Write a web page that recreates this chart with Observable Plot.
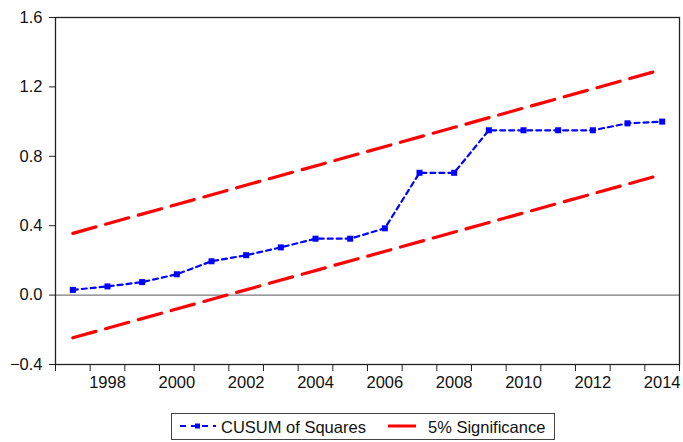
<!DOCTYPE html>
<html>
<head>
<meta charset="utf-8">
<script src="https://cdn.jsdelivr.net/npm/d3@7"></script>
<script src="https://cdn.jsdelivr.net/npm/@observablehq/plot@0.6"></script>
<style>
  html, body { margin: 0; padding: 0; background: #fff; }
  #wrap { position: relative; width: 683px; height: 442px; font-family: "Liberation Sans", Arial, sans-serif; }
  #legend {
    position: absolute; left: 171px; top: 413px; width: 384px; height: 27px;
    box-sizing: border-box; border: 1px solid #444;
    font-size: 16.5px; color: #111; white-space: nowrap;
  }
  #legend svg, #legend span { position: absolute; display: block; }
  #legend span { top: 50%; transform: translateY(-50%); line-height: 1; }
</style>
</head>
<body>
<div id="wrap">
  <div id="chart"></div>
  <div id="legend"></div>
</div>
<script>
// Years of the recursive estimation
const years = [1997, 1998, 1999, 2000, 2001, 2002, 2003, 2004, 2005, 2006, 2007, 2008, 2009, 2010, 2011, 2012, 2013, 2014];
// CUSUM of Squares values
const cusumSq = [0.03, 0.05, 0.075, 0.12, 0.195, 0.23, 0.275, 0.325, 0.325, 0.385, 0.705, 0.705, 0.95, 0.95, 0.95, 0.95, 0.99, 1.00];
// 5% significance bounds (straight lines, endpoints)
const boundYears = [1997, 2014];
const upperBound = [0.356, 1.30];
const lowerBound = [-0.246, 0.695];
// Tick values
const yTicks = [-0.4, 0.0, 0.4, 0.8, 1.2, 1.6];
const xLabelYears = [1998, 2000, 2002, 2004, 2006, 2008, 2010, 2012, 2014];
const xTickBounds = d3.range(1996.5, 2015, 1);

const cusumData = years.map((y, i) => ({year: y, value: cusumSq[i]}));
const upperData = boundYears.map((y, i) => ({year: y, value: upperBound[i]}));
const lowerData = boundYears.map((y, i) => ({year: y, value: lowerBound[i]}));

const blue = "#0000ff";
const red = "#ff0000";

const chart = Plot.plot({
  width: 683,
  height: 400,
  marginLeft: 55,
  marginRight: 4,
  marginTop: 17,
  marginBottom: 36,
  style: {fontFamily: "'Liberation Sans', Arial, sans-serif", fontSize: "16px", color: "#111", background: "#fff"},
  x: {type: "linear", domain: [1996.5, 2014.5]},
  y: {type: "linear", domain: [-0.4, 1.6]},
  marks: [
    Plot.ruleY([0], {stroke: "#7a7a7a", strokeWidth: 1.2}),
    Plot.line(upperData, {x: "year", y: "value", stroke: red, strokeWidth: 3.2, strokeDasharray: "24,10"}),
    Plot.line(lowerData, {x: "year", y: "value", stroke: red, strokeWidth: 3.2, strokeDasharray: "24,10"}),
    Plot.line(cusumData, {x: "year", y: "value", stroke: blue, strokeWidth: 2.2, strokeDasharray: "5,4"}),
    Plot.dot(cusumData, {x: "year", y: "value", symbol: "square", r: 3.4, fill: blue, stroke: "none"}),
    Plot.frame({stroke: "#222", strokeWidth: 1.3}),
    Plot.axisY({ticks: yTicks, tickFormat: d3.format(".1f"), tickSize: 6, tickPadding: 7, label: null, fontSize: 16.5, stroke: "#222"}),
    Plot.axisX({ticks: xTickBounds, tickFormat: () => "", tickSize: 7, label: null, stroke: "#222"}),
    Plot.axisX({ticks: xLabelYears, tickFormat: d => String(d), tickSize: 0, tickPadding: 12, label: null, fontSize: 16.5})
  ]
});
document.getElementById("chart").appendChild(chart);

// Legend
const legend = d3.select("#legend");
const s1 = legend.append("svg").attr("width", 38).attr("height", 12).style("left", "7px").style("top", "6px");
s1.append("line").attr("x1", 1).attr("x2", 37).attr("y1", 6).attr("y2", 6)
  .attr("stroke", blue).attr("stroke-width", 2.2).attr("stroke-dasharray", "6,5");
s1.append("rect").attr("x", 16).attr("y", 3.5).attr("width", 5).attr("height", 5).attr("fill", blue);
legend.append("span").text("CUSUM of Squares").style("left", "49px");
const s2 = legend.append("svg").attr("width", 30).attr("height", 12).style("left", "215px").style("top", "6px");
s2.append("line").attr("x1", 1).attr("x2", 29).attr("y1", 6).attr("y2", 6)
  .attr("stroke", red).attr("stroke-width", 3);
legend.append("span").text("5% Significance").style("left", "256px");
</script>
</body>
</html>
